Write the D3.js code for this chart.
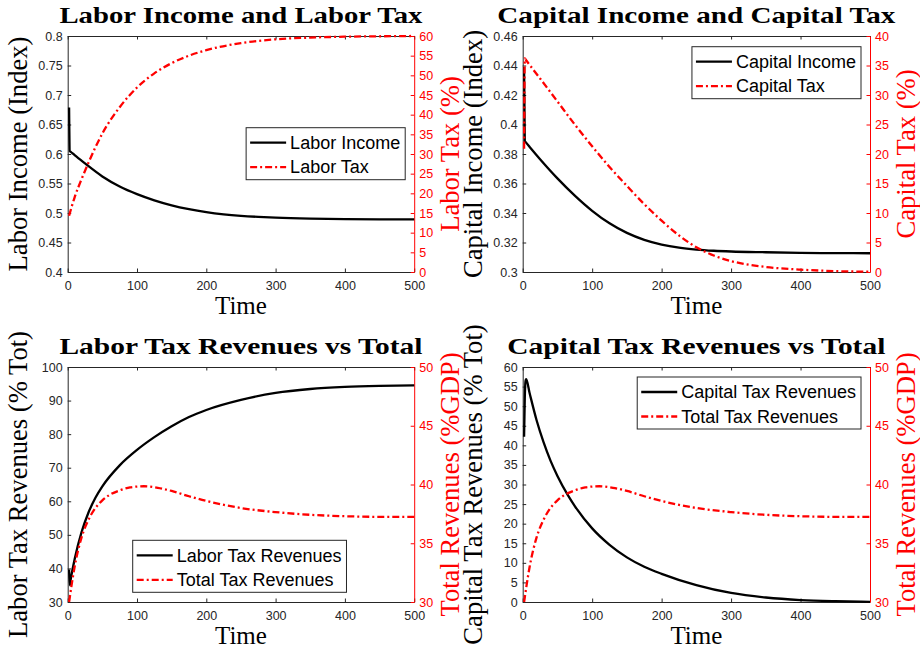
<!DOCTYPE html>
<html>
<head>
<meta charset="utf-8">
<script src="https://cdnjs.cloudflare.com/ajax/libs/d3/7.8.5/d3.min.js"></script>
<style>
  body { margin: 0; background: #fff; }
  svg { display: block; }
</style>
</head>
<body>
<svg width="920" height="652"></svg>
<script>
// time axis
var xTicks = [0, 100, 200, 300, 400, 500];

// panel 1
var laborIncomeT = [2, 3, 4, 10, 25, 50, 75, 100, 125, 150, 175, 200, 225, 250, 275, 300, 350, 400, 450, 500];
var laborIncome = [0.679, 0.605, 0.6041, 0.598, 0.584, 0.562, 0.545, 0.532, 0.5215, 0.513, 0.5065, 0.5015, 0.4978, 0.4952, 0.4934, 0.4921, 0.4905, 0.4897, 0.4893, 0.4891];
var laborTaxT = [2, 10, 20, 30, 40, 50, 75, 100, 125, 150, 175, 200, 250, 300, 350, 400, 450, 500];
var laborTax = [14.3, 19.0, 23.6, 27.8, 31.7, 35.2, 41.9, 46.9, 50.5, 53.1, 55.0, 56.4, 58.2, 59.15, 59.6, 59.82, 59.93, 60];

// panel 2
var capitalIncomeT = [2, 3, 4, 10, 25, 50, 75, 100, 125, 150, 175, 200, 225, 250, 275, 300, 350, 400, 450, 500];
var capitalIncome = [0.439, 0.3888, 0.3882, 0.3848, 0.3765, 0.3635, 0.3518, 0.3415, 0.333, 0.3265, 0.3218, 0.3186, 0.3165, 0.3152, 0.3144, 0.3139, 0.3134, 0.313, 0.3128, 0.3127];
var capitalTaxT = [2, 3, 4, 10, 25, 50, 75, 100, 125, 150, 175, 200, 225, 250, 275, 300, 325, 350, 400, 450, 500];
var capitalTax = [20.9, 36.2, 36.05, 35.1, 32.8, 28.9, 25.0, 21.3, 17.8, 14.6, 11.5, 8.7, 6.2, 4.2, 2.8, 1.85, 1.25, 0.85, 0.4, 0.15, 0.05];

// panel 3 / 4
var laborRevT = [2, 3, 4, 10, 20, 30, 40, 50, 75, 100, 125, 150, 175, 200, 250, 300, 350, 400, 450, 500];
var laborRev = [39.7, 35.0, 36.3, 42.7, 50.8, 56.65, 61.05, 64.45, 70.7, 75.3, 79.1, 82.35, 85.1, 87.2, 90.2, 92.3, 93.45, 94.05, 94.35, 94.5];
var capitalRevT = [2, 3, 4, 5, 10, 20, 30, 40, 50, 65, 75, 100, 125, 150, 175, 200, 250, 300, 350, 400, 450, 500];
var capitalRev = [42.2, 52, 56.3, 56.9, 53.3, 46.4, 40.8, 36.1, 32.2, 27.3, 24.5, 18.8, 14.6, 11.4, 9.0, 7.2, 4.3, 2.3, 1.15, 0.5, 0.2, 0.05];
var totalRevT = [2, 10, 20, 30, 40, 50, 60, 75, 90, 110, 130, 150, 175, 200, 250, 300, 350, 400, 450, 500];
var totalRev = [30, 33.0, 35.5, 37.0, 38.0, 38.65, 39.1, 39.5, 39.75, 39.85, 39.72, 39.45, 39.0, 38.6, 38.0, 37.65, 37.42, 37.3, 37.25, 37.25];

var panels = [
  {
    title: 'Labor Income and Labor Tax', titleW: 363,
    box: { x: 67.7, y: 36, w: 346.5, h: 236 },
    yLeft: [0.4, 0.8], yLeftTicks: d3.range(0.4, 0.8001, 0.05),
    yRight: [0, 60], yRightTicks: d3.range(0, 61, 5),
    leftLabel: 'Labor Income (Index)', rightLabel: 'Labor Tax (%)',
    left: { name: 'Labor Income', t: laborIncomeT, v: laborIncome },
    right: { name: 'Labor Tax', t: laborTaxT, v: laborTax },
    legend: { side: 'right', dx: 9, dy: 91.7 }
  },
  {
    title: 'Capital Income and Capital Tax', titleW: 398,
    box: { x: 522.7, y: 36, w: 347.3, h: 236 },
    yLeft: [0.3, 0.46], yLeftTicks: d3.range(0.3, 0.4601, 0.02),
    yRight: [0, 40], yRightTicks: d3.range(0, 41, 5),
    leftLabel: 'Capital Income (Index)', rightLabel: 'Capital Tax (%)',
    left: { name: 'Capital Income', t: capitalIncomeT, v: capitalIncome },
    right: { name: 'Capital Tax', t: capitalTaxT, v: capitalTax },
    legend: { side: 'right', dx: 9, dy: 10.7 }
  },
  {
    title: 'Labor Tax Revenues vs Total', titleW: 363,
    box: { x: 67.7, y: 367, w: 346.5, h: 235 },
    yLeft: [30, 100], yLeftTicks: d3.range(30, 101, 10),
    yRight: [30, 50], yRightTicks: d3.range(30, 51, 5),
    leftLabel: 'Labor Tax Revenues (% Tot)', rightLabel: 'Total Revenues (%GDP)',
    left: { name: 'Labor Tax Revenues', t: laborRevT, v: laborRev },
    right: { name: 'Total Tax Revenues', t: totalRevT, v: totalRev },
    legend: { side: 'left', dx: 65, dy: 173.3 }
  },
  {
    title: 'Capital Tax Revenues vs Total', titleW: 378,
    box: { x: 522.7, y: 367, w: 347.3, h: 235 },
    yLeft: [0, 60], yLeftTicks: d3.range(0, 61, 5),
    yRight: [30, 50], yRightTicks: d3.range(30, 51, 5),
    leftLabel: 'Capital Tax Revenues (% Tot)', rightLabel: 'Total Revenues (%GDP)',
    left: { name: 'Capital Tax Revenues', t: capitalRevT, v: capitalRev },
    right: { name: 'Total Tax Revenues', t: totalRevT, v: totalRev },
    legend: { side: 'right', dx: 9, dy: 10 }
  }
];

var svg = d3.select('svg');
var axisColor = '#262626';
var red = '#ff0000';
var dash = '7,3,2,3';
var serif = '"Liberation Serif", "Times New Roman", serif';
var sans = '"Liberation Sans", Arial, sans-serif';
var fmt = function(d) { return String(+d.toFixed(2)); };

panels.forEach(drawPanel);

function drawPanel(p) {
  var b = p.box;
  var x = d3.scaleLinear().domain([0, 500]).range([b.x, b.x + b.w]);
  var yL = d3.scaleLinear().domain(p.yLeft).range([b.y + b.h, b.y]);
  var yR = d3.scaleLinear().domain(p.yRight).range([b.y + b.h, b.y]);
  var g = svg.append('g');

  // axes, ticks pointing inwards like matlab
  var bottom = g.append('g')
    .attr('transform', 'translate(0,' + (b.y + b.h) + ')')
    .call(d3.axisBottom(x).tickValues(xTicks).tickSize(-3.5).tickSizeOuter(0).tickPadding(9));
  var top = g.append('g')
    .attr('transform', 'translate(0,' + b.y + ')')
    .call(d3.axisTop(x).tickValues(xTicks).tickSize(-3.5).tickSizeOuter(0).tickFormat(''));
  var left = g.append('g')
    .attr('transform', 'translate(' + b.x + ',0)')
    .call(d3.axisLeft(yL).tickValues(p.yLeftTicks).tickFormat(fmt).tickSize(-3.5).tickSizeOuter(0).tickPadding(5));
  var right = g.append('g')
    .attr('transform', 'translate(' + (b.x + b.w) + ',0)')
    .call(d3.axisRight(yR).tickValues(p.yRightTicks).tickFormat(fmt).tickSize(-3.5).tickSizeOuter(0).tickPadding(5));

  [bottom, top, left].forEach(function(a) { a.attr('color', axisColor); });
  right.attr('color', red);
  [bottom, top, left, right].forEach(function(a) {
    a.attr('font-family', sans).attr('font-size', 12.5);
    a.selectAll('.domain').attr('stroke-width', 1);
  });

  // lines
  var lineL = d3.line()
    .x(function(d) { return x(d[0]); })
    .y(function(d) { return yL(d[1]); })
    .curve(d3.curveMonotoneX);
  var lineR = d3.line()
    .x(function(d) { return x(d[0]); })
    .y(function(d) { return yR(d[1]); })
    .curve(d3.curveMonotoneX);

  g.append('path')
    .datum(d3.zip(p.left.t, p.left.v))
    .attr('fill', 'none')
    .attr('stroke', '#000')
    .attr('stroke-width', 2.3)
    .attr('d', lineL);
  g.append('path')
    .datum(d3.zip(p.right.t, p.right.v))
    .attr('fill', 'none')
    .attr('stroke', red)
    .attr('stroke-width', 2.3)
    .attr('stroke-dasharray', dash)
    .attr('d', lineR);

  // title + labels
  g.append('text')
    .attr('x', b.x + b.w / 2)
    .attr('y', b.y - 13)
    .attr('text-anchor', 'middle')
    .attr('font-family', serif)
    .attr('font-weight', 'bold')
    .attr('font-size', 23)
    .attr('textLength', p.titleW)
    .attr('lengthAdjust', 'spacingAndGlyphs')
    .text(p.title);

  g.append('text')
    .attr('x', b.x + b.w / 2)
    .attr('y', b.y + b.h + 42)
    .attr('text-anchor', 'middle')
    .attr('font-family', serif)
    .attr('font-size', 25)
    .text('Time');

  g.append('text')
    .attr('transform', 'translate(' + (b.x - 41) + ',' + (b.y + b.h / 2) + ') rotate(-90)')
    .attr('text-anchor', 'middle')
    .attr('font-family', serif)
    .attr('font-size', 26.6)
    .text(p.leftLabel);

  g.append('text')
    .attr('transform', 'translate(' + (b.x + b.w + 45) + ',' + (b.y + b.h / 2) + ') rotate(-90)')
    .attr('text-anchor', 'middle')
    .attr('font-family', serif)
    .attr('font-size', 26.6)
    .attr('fill', red)
    .text(p.rightLabel);

  // legend
  var lg = g.append('g');
  var rect = lg.append('rect')
    .attr('fill', '#fff')
    .attr('stroke', axisColor)
    .attr('stroke-width', 1);
  var entries = [
    { name: p.left.name, color: '#000', dash: null },
    { name: p.right.name, color: red, dash: dash }
  ];
  var maxW = 0;
  entries.forEach(function(e, i) {
    var cy = 15 + i * 24.5;
    lg.append('line')
      .attr('x1', 4).attr('x2', 40)
      .attr('y1', cy).attr('y2', cy)
      .attr('stroke', e.color)
      .attr('stroke-width', 2.3)
      .attr('stroke-dasharray', e.dash);
    var t = lg.append('text')
      .attr('x', 44)
      .attr('y', cy + 6.3)
      .attr('font-family', sans)
      .attr('font-size', 18)
      .attr('fill', '#000')
      .text(e.name);
    maxW = Math.max(maxW, t.node().getComputedTextLength());
  });
  var lw = 44 + maxW + 5, lh = 52;
  rect.attr('width', lw).attr('height', lh);
  var lx = p.legend.side === 'right' ? b.x + b.w - p.legend.dx - lw : b.x + p.legend.dx;
  lg.attr('transform', 'translate(' + lx + ',' + (b.y + p.legend.dy) + ')');
}
</script>
</body>
</html>
